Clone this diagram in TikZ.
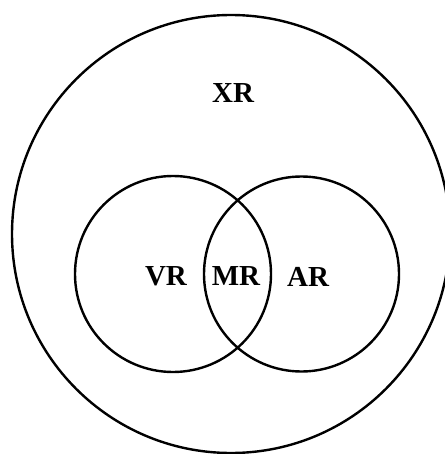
\documentclass[tikz,border=0pt]{standalone}
\usepackage{fontspec}
\setmainfont{Liberation Serif}
\usepackage{tikz}
\tikzset{
    ring/.style={circle, draw=black, line width=1.2pt, inner sep=0pt},
    lbl/.style={font=\fontsize{14.5}{16}\selectfont\bfseries, inner sep=0pt}
}

\begin{document}
\begin{tikzpicture}[x=0.5pt, y=-0.5pt]
        \useasboundingbox (0,0) rectangle (444,454);
        \node[ring, minimum size=219pt] (outer) at (231,234) {};
        \node[ring, minimum size=98pt] (left) at (173,274) {};
        \node[ring, minimum size=97.5pt] (right) at (301.5,274) {};
        \node[lbl] (XR) at (233,93) {XR};
        \node[lbl] (VR) at (166,276.5) {VR};
        \node[lbl] (MR) at (236,276.5) {MR};
        \node[lbl] (AR) at (308,276.5) {AR};
    \end{tikzpicture}
\end{document}
